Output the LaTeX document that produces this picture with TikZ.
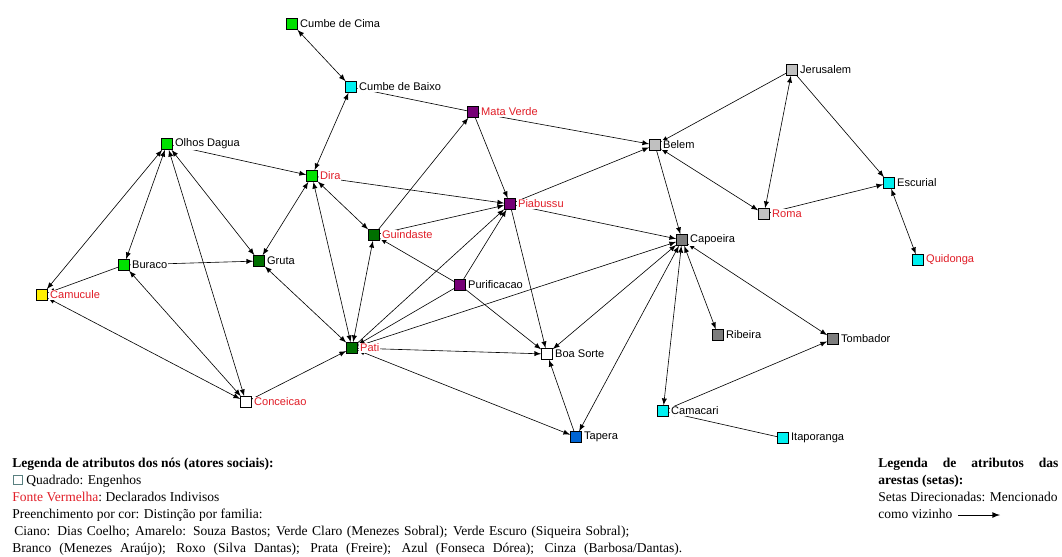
\documentclass[tikz,border=0pt]{standalone}
\usepackage{fontspec}
\setmainfont{Liberation Serif}
\setsansfont{Liberation Sans}
\usepackage{tikz}
\usetikzlibrary{positioning}
\definecolor{verdeclaro}{RGB}{0,225,0}
\definecolor{verdeescuro}{RGB}{0,112,0}
\definecolor{ciano}{RGB}{0,240,240}
\definecolor{roxo}{RGB}{118,0,118}
\definecolor{prata}{RGB}{192,192,192}
\definecolor{cinza}{RGB}{125,125,125}
\definecolor{azul}{RGB}{0,100,210}
\definecolor{amarelo}{RGB}{255,240,0}
\definecolor{vermelho}{RGB}{225,30,40}

\begin{document}
\begin{tikzpicture}[x=0.02cm, y=-0.02cm,
    quad/.style={rectangle, draw, minimum size=0.22cm, inner sep=0pt},
    rotulo/.style={fill=white, inner sep=0.6pt, font=\sffamily\fontsize{6.3}{7}\selectfont},
    rot/.style={rotulo, text=vermelho},
    seta/.style={-latex, line width=0.35pt},
    dupla/.style={latex-latex, line width=0.35pt},
    leg/.style={anchor=base west, inner sep=0pt, font=\fontsize{7.7}{9}\selectfont}]
      \useasboundingbox (0,0) rectangle (1062,556);

      % Nos
      \node (cima) at (292,24) [quad, fill=verdeclaro] {};
      \node (baixo) at (351,87) [quad, fill=ciano] {};
      \node (mata) at (473,112) [quad, fill=roxo] {};
      \node (olhos) at (167,144) [quad, fill=verdeclaro] {};
      \node (dira) at (312,176) [quad, fill=verdeclaro] {};
      \node (belem) at (655,145) [quad, fill=prata] {};
      \node (jeru) at (792,70) [quad, fill=prata] {};
      \node (escu) at (889,183) [quad, fill=ciano] {};
      \node (roma) at (764,214) [quad, fill=prata] {};
      \node (piab) at (510,204) [quad, fill=roxo] {};
      \node (guin) at (374,235) [quad, fill=verdeescuro] {};
      \node (capo) at (682,240) [quad, fill=cinza] {};
      \node (quid) at (918,260) [quad, fill=ciano] {};
      \node (gruta) at (259,261) [quad, fill=verdeescuro] {};
      \node (bura) at (124,265) [quad, fill=verdeclaro] {};
      \node (camu) at (42,295) [quad, fill=amarelo] {};
      \node (puri) at (460,285) [quad, fill=roxo] {};
      \node (ribe) at (718,335) [quad, fill=cinza] {};
      \node (tomb) at (833,339) [quad, fill=cinza] {};
      \node (pati) at (352,348) [quad, fill=verdeescuro] {};
      \node (boa) at (547,354) [quad, fill=white] {};
      \node (conc) at (246,402) [quad, fill=white] {};
      \node (cama) at (663,411) [quad, fill=ciano] {};
      \node (tape) at (576,437) [quad, fill=azul] {};
      \node (itap) at (783,438) [quad, fill=ciano] {};

      % Setas nos dois sentidos
      \draw[dupla] (cima) -- (baixo);
      \draw[dupla] (baixo) -- (dira);
      \draw[dupla] (olhos) -- (dira);
      \draw[dupla] (dira) -- (guin);
      \draw[dupla] (dira) -- (pati);
      \draw[dupla] (dira) -- (gruta);
      \draw[dupla] (olhos) -- (gruta);
      \draw[dupla] (olhos) -- (bura);
      \draw[dupla] (camu) -- (olhos);
      \draw[dupla] (olhos) -- (conc);
      \draw[dupla] (bura) -- (conc);
      \draw[dupla] (camu) -- (conc);
      \draw[dupla] (gruta) -- (pati);
      \draw[dupla] (pati) -- (guin);
      \draw[dupla] (pati) -- (tape);
      \draw[dupla] (boa) -- (capo);
      \draw[dupla] (tape) -- (capo);
      \draw[dupla] (capo) -- (cama);
      \draw[dupla] (capo) -- (ribe);
      \draw[dupla] (capo) -- (tomb);
      \draw[dupla] (belem) -- (roma);
      \draw[dupla] (jeru) -- (roma);
      \draw[dupla] (escu) -- (quid);

      % Setas num sentido
      \draw[seta] (mata) -- (baixo);
      \draw[seta] (mata) -- (belem);
      \draw[seta] (mata) -- (piab);
      \draw[seta] (guin) -- (mata);
      \draw[seta] (dira) -- (piab);
      \draw[seta] (bura) -- (gruta);
      \draw[seta] (bura) -- (camu);
      \draw[seta] (conc) -- (pati);
      \draw[seta] (puri) -- (guin);
      \draw[seta] (guin) -- (piab);
      \draw[seta] (puri) -- (piab);
      \draw[seta] (puri) -- (boa);
      \draw[seta] (puri) -- (pati);
      \draw[seta] (pati) -- (piab);
      \draw[seta] (pati) -- (capo);
      \draw[seta] (pati) -- (boa);
      \draw[seta] (piab) -- (belem);
      \draw[seta] (piab) -- (capo);
      \draw[seta] (piab) -- (boa);
      \draw[seta] (tape) -- (boa);
      \draw[seta] (belem) -- (capo);
      \draw[seta] (jeru) -- (belem);
      \draw[seta] (jeru) -- (escu);
      \draw[seta] (roma) -- (escu);
      \draw[seta] (cama) -- (tomb);
      \draw[seta] (itap) -- (cama);

      % Rotulos
      \node (lcima) [rotulo, right=0.5pt of cima] {Cumbe de Cima};
      \node (lbaixo) [rotulo, right=0.5pt of baixo] {Cumbe de Baixo};
      \node (lmata) [rot, right=0.5pt of mata] {Mata Verde};
      \node (lolhos) [rotulo, right=0.5pt of olhos] {Olhos Dagua};
      \node (ldira) [rot, right=0.5pt of dira] {Dira};
      \node (lbelem) [rotulo, right=0.5pt of belem] {Belem};
      \node (ljeru) [rotulo, right=0.5pt of jeru] {Jerusalem};
      \node (lescu) [rotulo, right=0.5pt of escu] {Escurial};
      \node (lroma) [rot, right=0.5pt of roma] {Roma};
      \node (lpiab) [rot, right=0.5pt of piab] {Piabussu};
      \node (lguin) [rot, right=0.5pt of guin] {Guindaste};
      \node (lcapo) [rotulo, right=0.5pt of capo] {Capoeira};
      \node (lquid) [rot, right=0.5pt of quid] {Quidonga};
      \node (lgruta) [rotulo, right=0.5pt of gruta] {Gruta};
      \node (lbura) [rotulo, right=0.5pt of bura] {Buraco};
      \node (lcamu) [rot, right=0.5pt of camu] {Camucule};
      \node (lpuri) [rotulo, right=0.5pt of puri] {Purificacao};
      \node (lribe) [rotulo, right=0.5pt of ribe] {Ribeira};
      \node (ltomb) [rotulo, right=0.5pt of tomb] {Tombador};
      \node (lpati) [rot, right=0.5pt of pati] {Pati};
      \node (lboa) [rotulo, right=0.5pt of boa] {Boa Sorte};
      \node (lconc) [rot, right=0.5pt of conc] {Conceicao};
      \node (lcama) [rotulo, right=0.5pt of cama] {Camacari};
      \node (ltape) [rotulo, right=0.5pt of tape] {Tapera};
      \node (litap) [rotulo, right=0.5pt of itap] {Itaporanga};

      % Legenda dos nos
      \node (leg1) at (12,467) [leg] {\bfseries Legenda de atributos\ dos nós (atores sociais):};
      \node (legq) at (18,480) [quad, draw=gray!70!teal, line width=0.5pt, fill=white, minimum size=0.19cm] {};
      \node (leg2) at (26,484) [leg] {Quadrado: Engenhos};
      \node (leg3) at (12,501) [leg] {{\color{vermelho}Fonte Vermelha}:\ Declarados Indivisos};
      \node (leg4) at (12,518) [leg] {Preenchimento\ por cor: Distinção\ por familia:};
      \node (leg5) at (14,535) [leg] {\makebox[12.3cm][s]{Ciano: Dias Coelho; Amarelo: Souza Bastos; Verde Claro (Menezes Sobral); Verde Escuro (Siqueira Sobral);}};
      \node (leg6) at (12,552) [leg] {\makebox[13.4cm][s]{Branco (Menezes Araújo); Roxo (Silva Dantas); Prata (Freire); Azul (Fonseca Dórea); Cinza (Barbosa/Dantas).}};

      % Legenda das arestas
      \node (leg7) at (878,467) [leg] {\makebox[3.6cm][s]{\bfseries Legenda de atributos das}};
      \node (leg8) at (878,484) [leg] {\bfseries arestas (setas):};
      \node (leg9) at (878,501) [leg] {Setas Direcionadas: Mencionado};
      \node (leg10) at (878,518) [leg] {como vizinho};
      \coordinate (sa) at (958,515);
      \coordinate (sb) at (1000,515);
      \draw[seta, line width=0.5pt] (sa) -- (sb);
    \end{tikzpicture}
\end{document}
